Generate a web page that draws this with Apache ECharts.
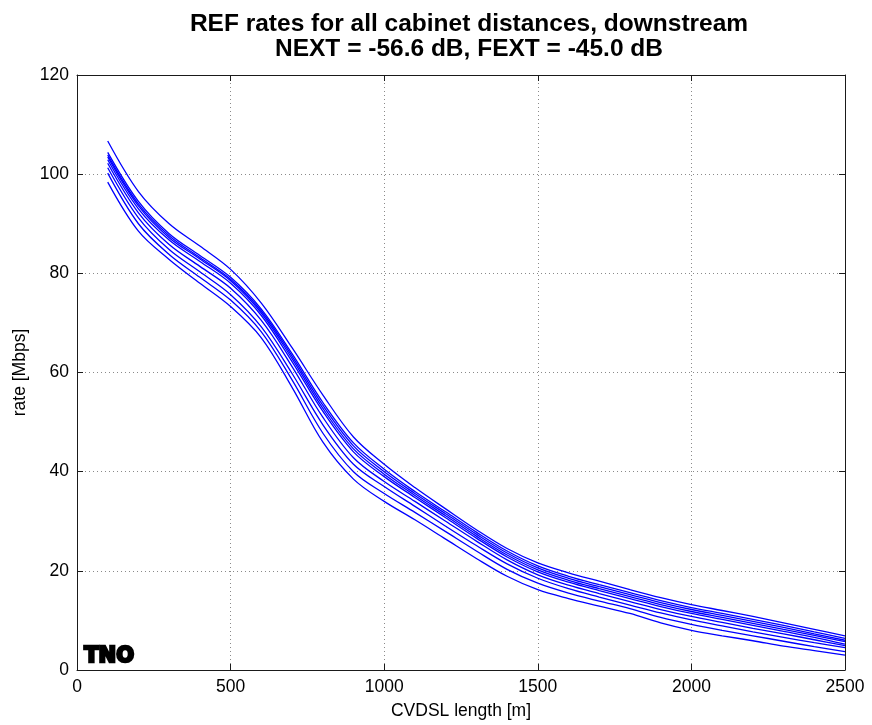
<!DOCTYPE html>
<html>
<head>
<meta charset="utf-8">
<script src="https://cdn.jsdelivr.net/npm/echarts@6/dist/echarts.min.js"></script>
<style>html,body{margin:0;padding:0;background:#fff;}#c{width:872px;height:725px;}</style>
</head>
<body>
<div id="c"></div>
<script>
var titleLines = ['REF rates for all cabinet distances, downstream', 'NEXT = -56.6 dB, FEXT = -45.0 dB'];
var xName = 'CVDSL length [m]';
var yName = 'rate [Mbps]';
var logoText = 'TNO';
var xTicks = [0, 500, 1000, 1500, 2000, 2500];
var yTicks = [0, 20, 40, 60, 80, 100, 120];
var lengths = [100,200,300,400,500,600,700,800,900,1000,1100,1200,1300,1400,1500,1600,1700,1800,1900,2000,2100,2200,2300,2400,2500];
var rate1 = [106.7,96.5,90.0,85.5,80.8,74.0,65.0,55.5,47.0,41.5,36.8,32.5,28.3,24.5,21.6,19.6,17.9,16.2,14.6,13.2,12.0,10.8,9.5,8.2,6.9];
var rate2 = [104.4,94.5,88.0,83.6,79.2,72.8,63.8,54.0,45.8,40.5,36.0,31.9,27.8,24.0,21.0,18.9,17.2,15.6,14.0,12.6,11.4,10.2,9.0,7.7,6.4];
var rate3 = [103.9,94.0,87.6,83.2,78.8,72.4,63.3,53.4,45.2,40.0,35.6,31.5,27.4,23.6,20.6,18.5,16.8,15.2,13.6,12.2,11.0,9.8,8.6,7.3,6.0];
var rate4 = [103.5,93.6,87.2,82.9,78.5,72.0,62.8,52.8,44.6,39.5,35.2,31.1,27.0,23.2,20.2,18.1,16.4,14.8,13.2,11.8,10.6,9.4,8.2,7.0,5.7];
var rate5 = [102.9,93.0,86.7,82.4,78.0,71.5,62.2,52.2,44.0,39.0,34.8,30.7,26.6,22.8,19.8,17.7,16.0,14.4,12.8,11.4,10.2,9.0,7.8,6.6,5.2];
var rate6 = [102.2,92.2,85.8,81.4,77.0,70.5,61.2,51.0,42.8,38.0,34.0,30.0,26.0,22.2,19.2,17.1,15.4,13.8,12.2,10.8,9.6,8.4,7.3,6.1,4.9];
var rate7 = [101.3,91.2,84.8,80.3,75.7,69.2,59.8,49.5,41.5,37.0,33.0,29.0,25.1,21.4,18.5,16.4,14.7,13.1,11.5,10.1,8.9,7.7,6.6,5.5,4.5];
var rate8 = [100.2,90.0,83.8,79.2,74.6,68.2,58.5,47.8,40.0,35.6,31.8,27.9,24.0,20.3,17.5,15.5,13.9,12.4,10.6,9.2,8.0,6.9,5.8,4.7,3.7];
var rate9 = [98.4,88.5,82.8,78.0,73.3,67.0,57.0,46.0,38.5,34.0,30.3,26.4,22.5,18.9,16.2,14.4,12.9,11.4,9.5,8.0,6.9,5.9,4.8,3.9,3.0];
var rates = [rate1, rate2, rate3, rate4, rate5, rate6, rate7, rate8, rate9];

var chart = echarts.init(document.getElementById('c'), null, {renderer: 'canvas'});
var FONT = 'Liberation Sans, Arial, sans-serif';
var axisCol = '#1a1a1a';
var series = rates.map(function (r, i) {
  return {
    type: 'line',
    name: 'r' + (i + 1),
    data: lengths.map(function (x, j) { return [x, r[j]]; }),
    showSymbol: false,
    symbol: 'none',
    smooth: 0.35,
    lineStyle: {color: '#0000ff', width: 1.3},
    itemStyle: {color: '#0000ff'},
    silent: true,
    animation: false
  };
});
var xMin = xTicks[0], xMax = xTicks[xTicks.length - 1];
var yMin = yTicks[0], yMax = yTicks[yTicks.length - 1];
function plain(v) { return String(v); }
var option = {
  animation: false,
  backgroundColor: '#ffffff',
  title: {
    text: titleLines.join('\n'),
    left: 464, top: 7, textAlign: 'center',
    textStyle: {fontFamily: FONT, fontWeight: 'bold', fontSize: 24.5, lineHeight: 25, color: '#000'}
  },
  grid: {left: 77, right: 27, top: 75, bottom: 52, containLabel: false},
  xAxis: [{
    type: 'value', min: xMin, max: xMax, interval: 500, position: 'bottom',
    name: xName, nameLocation: 'middle', nameGap: 32,
    nameTextStyle: {fontFamily: FONT, fontSize: 17.5, color: '#000'},
    axisLine: {show: true, lineStyle: {color: axisCol, width: 1}},
    axisTick: {show: true, inside: true, length: 6, lineStyle: {color: axisCol}},
    axisLabel: {fontFamily: FONT, fontSize: 17.5, color: '#000', margin: 8, formatter: plain},
    splitLine: {show: true, lineStyle: {type: [1, 3], color: '#8a8a8a', width: 1}}
  }, {
    type: 'value', min: xMin, max: xMax, interval: 500, position: 'top',
    axisLine: {show: true, onZero: false, lineStyle: {color: axisCol, width: 1}},
    axisTick: {show: true, inside: true, length: 6, lineStyle: {color: axisCol}},
    axisLabel: {show: false}, splitLine: {show: false}
  }],
  yAxis: [{
    type: 'value', min: yMin, max: yMax, interval: 20, position: 'left',
    name: yName, nameLocation: 'middle', nameGap: 47,
    nameTextStyle: {fontFamily: FONT, fontSize: 17.5, color: '#000'},
    axisLine: {show: true, lineStyle: {color: axisCol, width: 1}},
    axisTick: {show: true, inside: true, length: 6, lineStyle: {color: axisCol}},
    axisLabel: {fontFamily: FONT, fontSize: 17.5, color: '#000', margin: 8, formatter: plain},
    splitLine: {show: true, lineStyle: {type: [1, 3], color: '#8a8a8a', width: 1}}
  }, {
    type: 'value', min: yMin, max: yMax, interval: 20, position: 'right',
    axisLine: {show: true, onZero: false, lineStyle: {color: axisCol, width: 1}},
    axisTick: {show: true, inside: true, length: 6, lineStyle: {color: axisCol}},
    axisLabel: {show: false}, splitLine: {show: false}
  }],
  graphic: [{
    type: 'text', left: 83, top: 645, z: 100,
    style: {text: logoText, fontFamily: 'DejaVu Sans, Arial Black, sans-serif', fontWeight: 900,
      fontSize: 21, fill: '#000', stroke: '#000', lineWidth: 2.5}
  }],
  series: series
};
chart.setOption(option);
</script>
</body>
</html>
